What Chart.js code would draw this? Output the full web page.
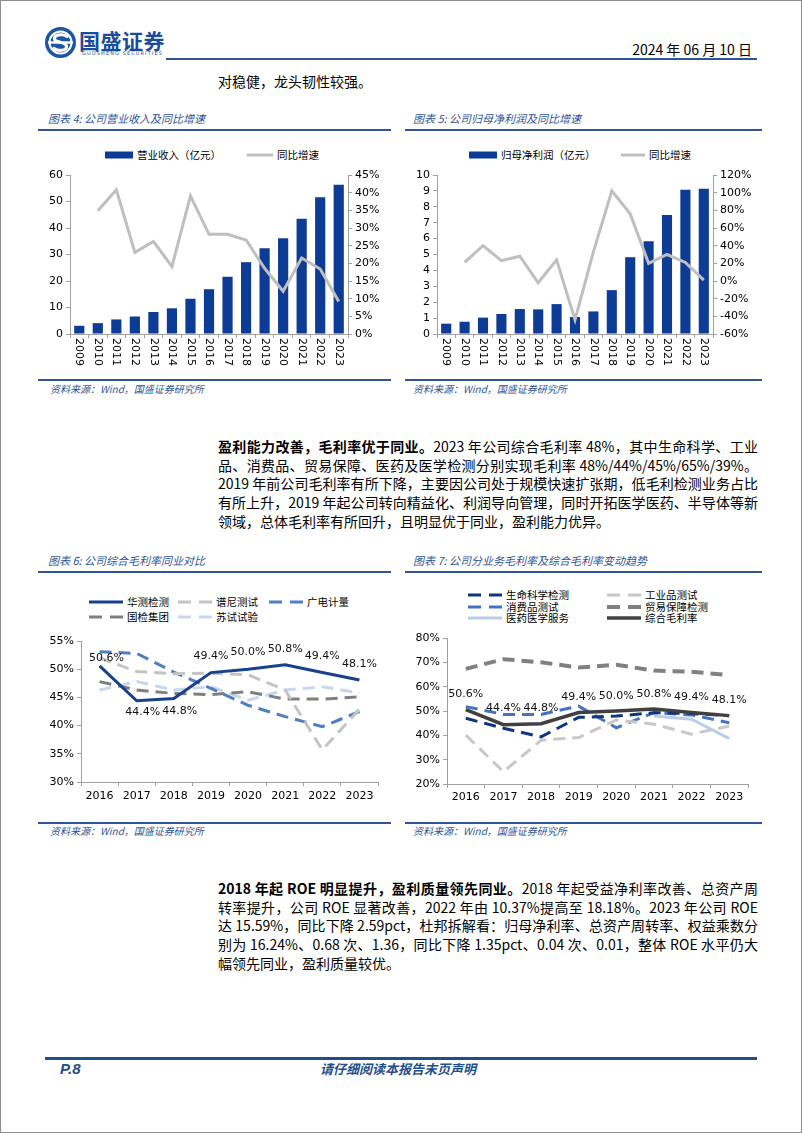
<!DOCTYPE html>
<html>
<head>
<meta charset="utf-8">
<script src="https://cdn.jsdelivr.net/npm/chart.js@4.4.0/dist/chart.umd.min.js"></script>
<style>
  body { margin: 0; background: #fff; }
  #page { position: relative; width: 802px; height: 1133px; overflow: hidden; font-family: "Noto Sans CJK SC", sans-serif; color: #000; }
  #frame { position: absolute; left: 0; top: 0; right: 0; bottom: 0; border: 1px solid #8c8c8c; }
  .abs { position: absolute; white-space: nowrap; }
  .rule { position: absolute; height: 2px; background: #2f5597; }
  .figtitle, .src { position: absolute; white-space: nowrap; font-size: 11px; line-height: 14px; font-style: italic; color: #2f5597; }
  .src { font-size: 10px; }
  .para { position: absolute; left: 218px; width: 540px; font-size: 14px; line-height: 18.7px; font-family: "Liberation Sans Narrow", "Noto Sans CJK SC", sans-serif; }
  .para div { height: 18.7px; text-align: justify; text-align-last: justify; white-space: nowrap; }
  .para div.last { text-align-last: left; }
  .para b { font-weight: 700; }
  .lg { position: absolute; display: flex; align-items: center; height: 12px; font-size: 10.5px; line-height: 12px; white-space: nowrap; }
  .lg svg { margin-right: 4px; }
  canvas { position: absolute; }
</style>
</head>
<body>
<div id="page">
  <div id="frame"></div>

  <!-- header -->
  <svg class="abs" style="left:44px;top:26px" width="33" height="33" viewBox="0 0 33 33">
    <circle cx="16.5" cy="16.5" r="15.5" fill="#1d55a6"/>
    <circle cx="16.5" cy="16.5" r="11" fill="none" stroke="#fff" stroke-width="2"/>
    <path d="M23 10.5 C19 7.5 10 8.5 10.5 13 C11 17 22 15.5 22.5 20 C23 25 14 25.5 10 22.5" fill="none" stroke="#fff" stroke-width="3.2" stroke-linecap="round"/>
    <rect x="4" y="15.3" width="25" height="2.4" fill="#fff"/>
  </svg>
  <div class="abs" style="left:79px;top:27px;font-size:21px;line-height:26px;font-weight:700;color:#1b4c9c;letter-spacing:0.5px">国盛证券</div>
  <div class="abs" style="left:82px;top:50px;font-size:5px;line-height:6px;color:#1b4c9c;letter-spacing:1.1px;font-family:'DejaVu Sans'">GUOSHENG SECURITIES</div>
  <div class="abs" style="right:50px;top:40px;font-size:14px;line-height:18px;font-family:'Liberation Sans Narrow','Noto Sans CJK SC',sans-serif">2024 年 06 月 10 日</div>
  <div class="rule" style="left:166px;top:58px;width:591px"></div>

  <div class="abs" style="left:218px;top:72px;font-size:14px;line-height:18px">对稳健，龙头韧性较强。</div>

  <!-- figure 4 / 5 frame -->
  <div class="figtitle" style="left:48px;top:111px">图表 4: 公司营业收入及同比增速</div>
  <div class="figtitle" style="left:413px;top:111px">图表 5: 公司归母净利润及同比增速</div>
  <div class="rule" style="left:38px;top:129px;width:353px"></div>
  <div class="rule" style="left:405px;top:129px;width:357px"></div>
  <canvas id="c4" width="350" height="205" style="left:40px;top:165px"></canvas>
  <canvas id="c5" width="360" height="205" style="left:405px;top:165px"></canvas>
  <div class="rule" style="left:38px;top:379px;width:353px"></div>
  <div class="rule" style="left:405px;top:379px;width:357px"></div>
  <div class="src" style="left:50px;top:382px">资料来源：Wind，国盛证券研究所</div>
  <div class="src" style="left:413px;top:382px">资料来源：Wind，国盛证券研究所</div>

  <div class="para" style="top:437px">
    <div><b>盈利能力改善，毛利率优于同业。</b>2023 年公司综合毛利率 48%，其中生命科学、工业</div>
    <div>品、消费品、贸易保障、医药及医学检测分别实现毛利率 48%/44%/45%/65%/39%。</div>
    <div>2019 年前公司毛利率有所下降，主要因公司处于规模快速扩张期，低毛利检测业务占比</div>
    <div>有所上升，2019 年起公司转向精益化、利润导向管理，同时开拓医学医药、半导体等新</div>
    <div class="last">领域，总体毛利率有所回升，且明显优于同业，盈利能力优异。</div>
  </div>

  <!-- figure 6 / 7 frame -->
  <div class="figtitle" style="left:48px;top:553px">图表 6: 公司综合毛利率同业对比</div>
  <div class="figtitle" style="left:413px;top:553px">图表 7: 公司分业务毛利率及综合毛利率变动趋势</div>
  <div class="rule" style="left:38px;top:571px;width:353px"></div>
  <div class="rule" style="left:405px;top:571px;width:357px"></div>
  <canvas id="c6" width="350" height="185" style="left:40px;top:630px"></canvas>
  <canvas id="c7" width="360" height="187" style="left:405px;top:628px"></canvas>
  <div class="rule" style="left:38px;top:822px;width:353px"></div>
  <div class="rule" style="left:405px;top:822px;width:357px"></div>
  <div class="src" style="left:50px;top:824px">资料来源：Wind，国盛证券研究所</div>
  <div class="src" style="left:413px;top:824px">资料来源：Wind，国盛证券研究所</div>

  <div class="para" style="top:879px">
    <div><b>2018 年起 ROE 明显提升，盈利质量领先同业。</b>2018 年起受益净利率改善、总资产周</div>
    <div>转率提升，公司 ROE 显著改善，2022 年由 10.37%提高至 18.18%。2023 年公司 ROE</div>
    <div>达 15.59%，同比下降 2.59pct，杜邦拆解看：归母净利率、总资产周转率、权益乘数分</div>
    <div>别为 16.24%、0.68 次、1.36，同比下降 1.35pct、0.04 次、0.01，整体 ROE 水平仍大</div>
    <div class="last">幅领先同业，盈利质量较优。</div>
  </div>

  <!-- footer -->
  <div class="abs" style="left:45px;top:1057px;width:712px;height:3px;background:#1f4e8c"></div>
  <div class="abs" style="left:60px;top:1060px;font-size:15px;line-height:18px;font-weight:700;font-style:italic;color:#1f4e8c;font-family:'Liberation Sans',sans-serif">P.8</div>
  <div class="abs" style="left:320px;top:1061px;font-size:13px;line-height:16px;font-weight:700;font-style:italic;color:#1f4e8c">请仔细阅读本报告末页声明</div>
</div>

<script>
// ---- data ----
const years = ['2009', '2010', '2011', '2012', '2013', '2014', '2015', '2016', '2017', '2018', '2019', '2020', '2021', '2022', '2023'];
const revenue = [3.1, 4.1, 5.5, 6.6, 8.3, 9.7, 13.3, 16.9, 21.6, 27.1, 32.4, 36.1, 43.5, 51.6, 56.3];
const revenueYoY = [null, 34.9, 40.8, 23.1, 26.2, 19.1, 39.1, 28.2, 28.2, 26.6, 18.6, 12.1, 21.5, 18.4, 9.2];
const netProfit = [0.65, 0.77, 1.03, 1.26, 1.57, 1.55, 1.88, 1.07, 1.42, 2.76, 4.83, 5.84, 7.49, 9.08, 9.14];
const netProfitYoY = [null, 21, 40, 23, 28, -2, 24, -44, 33, 102, 76, 20, 30, 21, 1];

const peerYears = ['2016', '2017', '2018', '2019', '2020', '2021', '2022', '2023'];
const peerNames = ['华测检测', '谱尼测试', '广电计量', '国检集团', '苏试试验'];
const huace = [50.6, 44.4, 44.8, 49.4, 50.0, 50.8, 49.4, 48.1];
const pony = [52.0, 49.6, 49.2, 49.3, 49.0, 46.3, 35.7, 42.9];
const grgt = [53.1, 52.8, 49.5, 46.6, 43.6, 41.6, 39.8, 42.5];
const ctc = [47.8, 46.3, 45.7, 45.5, 46.0, 44.7, 44.7, 45.1];
const sushi = [46.3, 47.8, 46.3, 46.9, 44.5, 46.3, 46.9, 45.8];

const segNames = ['生命科学检测', '工业品测试', '消费品测试', '贸易保障检测', '医药医学服务', '综合毛利率'];
const lifeSci = [47.0, 42.9, 39.4, 47.4, 47.9, 49.3, 49.0, 48.0];
const industrial = [40.1, 25.0, 38.0, 39.1, 46.3, 44.6, 40.5, 43.8];
const consumer = [51.8, 48.6, 48.6, 52.0, 43.1, 49.3, 48.4, 45.2];
const tradeAssur = [67.3, 71.3, 70.0, 67.9, 69.0, 66.6, 66.1, 64.8];
const medical = [null, null, null, null, null, 47.9, 46.6, 38.7];
const overall = [50.6, 44.4, 44.8, 49.4, 50.0, 50.8, 49.4, 48.1];

// ---- styles ----
const AXIS_FONT = { family: 'DejaVu Sans', size: 11 };
const AXIS_COLOR = '#a0a0a0';
const BAR_BLUE = '#0d3c96';
const DASH = [12, 7];

// ---- html legends ----
function swatch(s) {
  if (s.kind === 'bar') {
    return `<svg width="${s.w}" height="8"><rect x="0" y="0.5" width="${s.w}" height="7" fill="${s.color}"/></svg>`;
  }
  const dash = s.dash ? `stroke-dasharray="${s.dash}"` : '';
  return `<svg width="${s.w}" height="8"><line x1="0" y1="4" x2="${s.w}" y2="4" stroke="${s.color}" stroke-width="${s.lw}" ${dash}/></svg>`;
}
function addLegend(items) {
  const page = document.getElementById('page');
  items.forEach(it => {
    const d = document.createElement('div');
    d.className = 'lg';
    d.style.left = it.x + 'px';
    d.style.top = (it.y - 6) + 'px';
    d.innerHTML = swatch(it) + '<span>' + it.label + '</span>';
    page.appendChild(d);
  });
}

addLegend([
  { x: 105, y: 155, w: 28, kind: 'bar', color: BAR_BLUE, label: '营业收入（亿元）' },
  { x: 247, y: 155, w: 26, kind: 'line', color: '#bfbfbf', lw: 3, label: '同比增速' },
  { x: 469, y: 155, w: 28, kind: 'bar', color: BAR_BLUE, label: '归母净利润（亿元）' },
  { x: 621, y: 155, w: 24, kind: 'line', color: '#bfbfbf', lw: 3, label: '同比增速' },

  { x: 89, y: 602, w: 34, kind: 'line', color: '#17418c', lw: 3, label: peerNames[0] },
  { x: 178, y: 602, w: 34, kind: 'line', color: '#c4c4c4', lw: 3, dash: '13 8', label: peerNames[1] },
  { x: 269, y: 602, w: 34, kind: 'line', color: '#4f7fc0', lw: 3, dash: '13 8', label: peerNames[2] },
  { x: 89, y: 617, w: 34, kind: 'line', color: '#7f7f7f', lw: 3, dash: '13 8', label: peerNames[3] },
  { x: 178, y: 617, w: 34, kind: 'line', color: '#c9d7ee', lw: 3, dash: '13 8', label: peerNames[4] },

  { x: 468, y: 595, w: 34, kind: 'line', color: '#0f3480', lw: 3, dash: '13 8', label: segNames[0] },
  { x: 607, y: 595, w: 34, kind: 'line', color: '#c8c8c8', lw: 3, dash: '13 8', label: segNames[1] },
  { x: 468, y: 607, w: 34, kind: 'line', color: '#4374c2', lw: 3, dash: '13 8', label: segNames[2] },
  { x: 607, y: 607, w: 34, kind: 'line', color: '#808080', lw: 4, dash: '13 8', label: segNames[3] },
  { x: 468, y: 618, w: 34, kind: 'line', color: '#b9cdea', lw: 3, label: segNames[4] },
  { x: 607, y: 618, w: 34, kind: 'line', color: '#404040', lw: 3.5, label: segNames[5] }
]);

// ---- plugins ----
// year labels rotated 90deg clockwise, read top to bottom
const rotatedYears = {
  id: 'rotatedYears',
  afterDraw(chart) {
    const xs = chart.scales.x;
    const ctx = chart.ctx;
    ctx.save();
    ctx.fillStyle = '#000';
    ctx.font = '11px "DejaVu Sans"';
    ctx.textAlign = 'left';
    ctx.textBaseline = 'middle';
    chart.data.labels.forEach((lab, i) => {
      ctx.save();
      ctx.translate(xs.getPixelForValue(i), xs.top + 4);
      ctx.rotate(Math.PI / 2);
      ctx.fillText(lab, 0, 0);
      ctx.restore();
    });
    ctx.restore();
  }
};

const pointLabels = {
  id: 'pointLabels',
  afterDatasetsDraw(chart, args, opts) {
    if (opts.datasetIndex === undefined) return;
    const ctx = chart.ctx;
    const meta = chart.getDatasetMeta(opts.datasetIndex);
    const data = chart.data.datasets[opts.datasetIndex].data;
    ctx.save();
    ctx.fillStyle = '#111';
    ctx.font = '11px "DejaVu Sans"';
    ctx.textAlign = 'center';
    ctx.textBaseline = 'middle';
    meta.data.forEach((pt, i) => {
      const dx = opts.dx ? opts.dx[i] : 0;
      const dy = opts.dy[i];
      ctx.fillText(data[i].toFixed(1) + '%', pt.x + dx, pt.y + dy);
    });
    ctx.restore();
  }
};

// ---- scale helpers ----
function valueAxis(position, min, max, step, width, suffix) {
  return {
    position: position,
    min: min,
    max: max,
    ticks: {
      stepSize: step,
      autoSkip: false,
      color: '#000',
      font: AXIS_FONT,
      padding: 3,
      callback: v => v + suffix
    },
    grid: { drawOnChartArea: false, tickLength: 4, color: AXIS_COLOR },
    border: { color: AXIS_COLOR },
    afterFit(s) { s.width = width; }
  };
}

function categoryAxis(height, padding, hideLabels) {
  return {
    offset: true,
    ticks: {
      color: hideLabels ? 'rgba(0,0,0,0)' : '#000',
      font: AXIS_FONT,
      padding: padding,
      autoSkip: false,
      maxRotation: 0,
      minRotation: 0
    },
    grid: { offset: true, drawOnChartArea: false, tickLength: 4, color: AXIS_COLOR },
    border: { color: AXIS_COLOR },
    afterFit(s) { s.height = height; }
  };
}

const baseOptions = {
  responsive: false,
  maintainAspectRatio: false,
  animation: false,
  plugins: { legend: { display: false }, tooltip: { enabled: false } }
};

// ---- figure 4 ----
new Chart(document.getElementById('c4'), {
  type: 'bar',
  data: {
    labels: years,
    datasets: [
      { type: 'line', label: '同比增速', data: revenueYoY, yAxisID: 'y1', borderColor: '#bfbfbf', borderWidth: 3, pointRadius: 0, order: 0 },
      { type: 'bar', label: '营业收入（亿元）', data: revenue, yAxisID: 'y', backgroundColor: BAR_BLUE, categoryPercentage: 1, barPercentage: 0.55, order: 1 }
    ]
  },
  options: {
    ...baseOptions,
    layout: { padding: { top: 10, right: 0, left: 0, bottom: 0 } },
    scales: {
      x: categoryAxis(36, 4, true),
      y: valueAxis('left', 0, 60, 10, 30, ''),
      y1: valueAxis('right', 0, 45, 5, 42, '%')
    }
  },
  plugins: [rotatedYears]
});

// ---- figure 5 ----
new Chart(document.getElementById('c5'), {
  type: 'bar',
  data: {
    labels: years,
    datasets: [
      { type: 'line', label: '同比增速', data: netProfitYoY, yAxisID: 'y1', borderColor: '#bfbfbf', borderWidth: 3, pointRadius: 0, order: 0 },
      { type: 'bar', label: '归母净利润（亿元）', data: netProfit, yAxisID: 'y', backgroundColor: BAR_BLUE, categoryPercentage: 1, barPercentage: 0.55, order: 1 }
    ]
  },
  options: {
    ...baseOptions,
    layout: { padding: { top: 10, right: 0, left: 0, bottom: 0 } },
    scales: {
      x: categoryAxis(36, 4, true),
      y: valueAxis('left', 0, 10, 1, 32, ''),
      y1: valueAxis('right', -60, 120, 20, 52, '%')
    }
  },
  plugins: [rotatedYears]
});

// ---- figure 6 ----
function lineSet(label, data, color, width, dash) {
  return { label: label, data: data, borderColor: color, borderWidth: width, borderDash: dash || [], pointRadius: 0, tension: 0, fill: false };
}

new Chart(document.getElementById('c6'), {
  type: 'line',
  data: {
    labels: peerYears,
    datasets: [
      lineSet(peerNames[0], huace, '#17418c', 3),
      lineSet(peerNames[1], pony, '#c4c4c4', 3, DASH),
      lineSet(peerNames[2], grgt, '#4f7fc0', 3, DASH),
      lineSet(peerNames[3], ctc, '#7f7f7f', 3, DASH),
      lineSet(peerNames[4], sushi, '#c9d7ee', 3, DASH)
    ]
  },
  options: {
    ...baseOptions,
    layout: { padding: { top: 11, right: 12, left: 0, bottom: 0 } },
    scales: {
      x: categoryAxis(33, 4, false),
      y: valueAxis('left', 30, 55, 5, 41, '%')
    },
    plugins: {
      ...baseOptions.plugins,
      pointLabels: { datasetIndex: 0, dx: [7, 6, 6, 0, 0, 0, 0, 0], dy: [-8, 11, 13, -16, -17, -16, -16, -16] }
    }
  },
  plugins: [pointLabels]
});

// ---- figure 7 ----
const seg = [
  lineSet(segNames[5], overall, '#404040', 3.5),
  lineSet(segNames[0], lifeSci, '#0f3480', 3, DASH),
  lineSet(segNames[1], industrial, '#c8c8c8', 3, DASH),
  lineSet(segNames[2], consumer, '#4374c2', 3, DASH),
  lineSet(segNames[3], tradeAssur, '#808080', 4, DASH),
  lineSet(segNames[4], medical, '#b9cdea', 3)
];

new Chart(document.getElementById('c7'), {
  type: 'line',
  data: { labels: peerYears, datasets: seg },
  options: {
    ...baseOptions,
    layout: { padding: { top: 10, right: 17, left: 0, bottom: 0 } },
    scales: {
      x: categoryAxis(31, 3, false),
      y: valueAxis('left', 20, 80, 10, 42, '%')
    },
    plugins: {
      ...baseOptions.plugins,
      pointLabels: { datasetIndex: 0, dy: [-15, -16, -16, -15, -15, -15, -15, -15] }
    }
  },
  plugins: [pointLabels]
});
</script>
</body>
</html>
